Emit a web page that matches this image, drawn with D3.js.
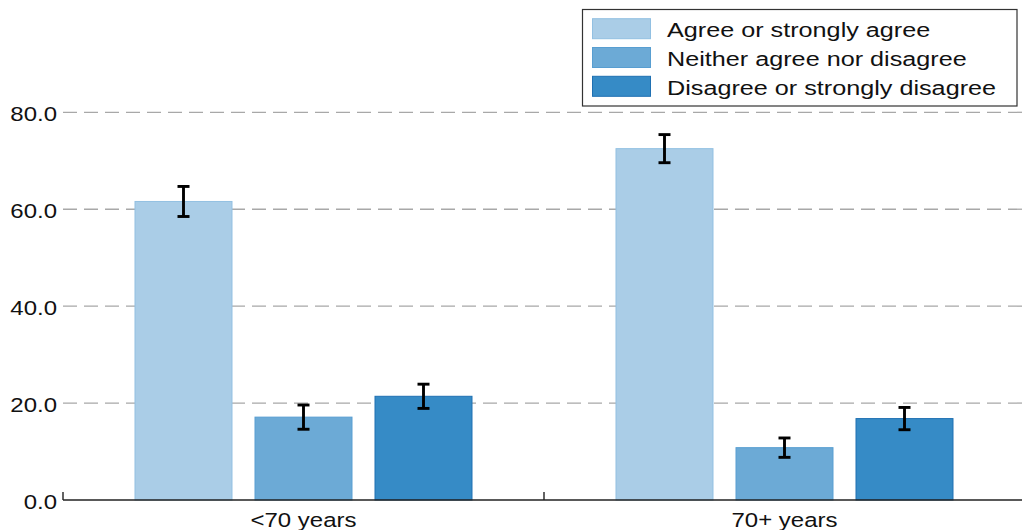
<!DOCTYPE html>
<html>
<head>
<meta charset="utf-8">
<script src="https://cdn.jsdelivr.net/npm/d3@7"></script>
<style>
  html, body { margin: 0; padding: 0; background: #fff; }
  svg { display: block; font-family: "Liberation Sans", Arial, Helvetica, sans-serif; }
</style>
</head>
<body>
<svg id="chart" width="1022" height="530"></svg>
<script>
// Age groups along the x axis
const categories = ["<70 years", "70+ years"];
// Response categories (one bar per group)
const series = ["Agree or strongly agree", "Neither agree nor disagree", "Disagree or strongly disagree"];
// Percentages per age group, in series order
const values = [
  [61.6, 17.1, 21.4],
  [72.5, 10.8, 16.8]
];
// Half-width of the confidence interval for each bar
const errors = [
  [3.1, 2.5, 2.5],
  [2.9, 2.0, 2.3]
];
// Y axis tick values
const yTicks = [0, 20, 40, 60, 80];

const fills = ["#aacde7", "#6caad6", "#368bc6"];
const strokes = ["#92c0e2", "#589ed1", "#1f70b2"];

const svg = d3.select("#chart");

const x0 = d3.scaleBand().domain(categories).range([63, 1025]).padding(0);
const x1 = d3.scaleBand().domain(series).range([0, x0.bandwidth()])
  .paddingInner(0.1917).paddingOuter(0.6);
const y = d3.scaleLinear().domain([0, 80]).range([500, 112.3]);

// Text with slightly widened lettering
function label(sel, x, yPos, text, anchor, size, sx) {
  return sel.append("text")
    .attr("transform", `translate(${x},${yPos}) scale(${sx},1)`)
    .attr("text-anchor", anchor)
    .attr("font-size", size)
    .attr("fill", "#111")
    .text(text);
}

// Dashed horizontal gridlines
svg.append("g")
  .selectAll("line")
  .data(yTicks.filter(t => t > 0))
  .join("line")
  .attr("x1", 63).attr("x2", 1022)
  .attr("y1", d => y(d)).attr("y2", d => y(d))
  .attr("stroke", "#a8a8a8")
  .attr("stroke-width", 1.3)
  .attr("stroke-dasharray", "14,7");

// Y tick labels
const yLab = svg.append("g");
yTicks.forEach(t => label(yLab, 57, y(t) + 9, d3.format(".1f")(t), "end", 20.5, 1.17));

// Bars
const groups = svg.append("g")
  .selectAll("g")
  .data(categories)
  .join("g")
  .attr("transform", d => `translate(${x0(d)},0)`);

const rows = (d, i) => series.map((s, j) => ({ s, j, v: values[i][j], e: errors[i][j] }));

groups.selectAll("rect")
  .data(rows)
  .join("rect")
  .attr("x", d => x1(d.s))
  .attr("y", d => y(d.v))
  .attr("width", x1.bandwidth())
  .attr("height", d => y(0) - y(d.v))
  .attr("fill", d => fills[d.j])
  .attr("stroke", d => strokes[d.j])
  .attr("stroke-width", 1);

// Error bars
const eb = groups.selectAll("g.err")
  .data(rows)
  .join("g")
  .attr("class", "err")
  .attr("stroke", "#000")
  .attr("stroke-width", 2.9);
const cx = d => x1(d.s) + x1.bandwidth() / 2;
eb.append("line")
  .attr("x1", cx).attr("x2", cx)
  .attr("y1", d => y(d.v + d.e))
  .attr("y2", d => y(d.v - d.e));
eb.append("line")
  .attr("x1", d => cx(d) - 6).attr("x2", d => cx(d) + 6)
  .attr("y1", d => y(d.v + d.e)).attr("y2", d => y(d.v + d.e));
eb.append("line")
  .attr("x1", d => cx(d) - 6).attr("x2", d => cx(d) + 6)
  .attr("y1", d => y(d.v - d.e)).attr("y2", d => y(d.v - d.e));

// X axis line with ticks at the group boundaries
const ax = svg.append("g").attr("stroke", "#222").attr("stroke-width", 1.4);
ax.append("line").attr("x1", 63).attr("x2", 1022).attr("y1", y(0)).attr("y2", y(0));
[x0.range()[0], x0(categories[1])].forEach(px => {
  ax.append("line").attr("x1", px).attr("x2", px).attr("y1", y(0) - 8).attr("y2", y(0));
});

// Category labels
const xLab = svg.append("g");
categories.forEach(c => label(xLab, x0(c) + x0.bandwidth() / 2, 526.5, c, "middle", 20.5, 1.17));

// Legend
const lg = svg.append("g");
lg.append("rect")
  .attr("x", 582.5).attr("y", 9.5).attr("width", 434.5).attr("height", 96.5)
  .attr("fill", "#fff").attr("stroke", "#333").attr("stroke-width", 1.2);
series.forEach((s, j) => {
  const cy = 28.7 + j * 28.8;
  lg.append("rect")
    .attr("x", 592.5).attr("y", cy - 10).attr("width", 58).attr("height", 20)
    .attr("fill", fills[j]).attr("stroke", strokes[j]).attr("stroke-width", 1);
  label(lg, 667, cy + 8.5, s, "start", 21, 1.2);
});
</script>
</body>
</html>
